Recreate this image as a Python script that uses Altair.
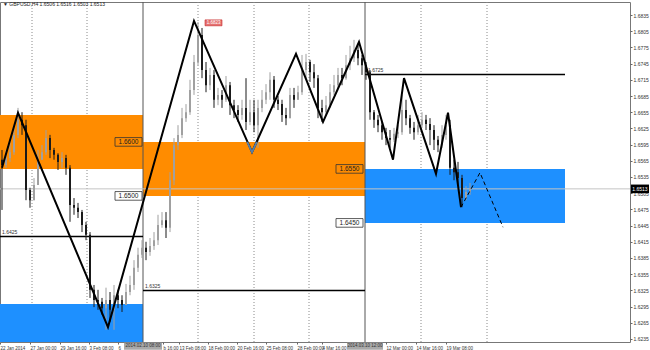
import altair as alt
import pandas as pd

# ---------------- data (bar index units / price units) ----------------
first_open = 1.6567
close = [1.6557, 1.6570, 1.6581, 1.6613, 1.6641, 1.6631, 1.6511, 1.6492, 1.6520, 1.6567,
         1.6581, 1.6607, 1.6585, 1.6576, 1.6563, 1.6570, 1.6552, 1.6483, 1.6478, 1.6470,
         1.6446, 1.6428, 1.6326, 1.6307, 1.6304, 1.6292, 1.6307, 1.6289, 1.6316, 1.6307,
         1.6298, 1.6322, 1.6335, 1.6367, 1.6391, 1.6404, 1.6396, 1.6407, 1.6418, 1.6446,
         1.6455, 1.6441, 1.6529, 1.6594, 1.6613, 1.6644, 1.6655, 1.6696, 1.6748, 1.6798,
         1.6733, 1.6705, 1.6724, 1.6678, 1.6687, 1.6678, 1.6705, 1.6668, 1.6659, 1.6650,
         1.6663, 1.6637, 1.6655, 1.6631, 1.6663, 1.6678, 1.6692, 1.6715, 1.6678, 1.6670,
         1.6650, 1.6644, 1.6687, 1.6678, 1.6692, 1.6733, 1.6748, 1.6729, 1.6718, 1.6663,
         1.6655, 1.6668, 1.6692, 1.6705, 1.6724, 1.6718, 1.6742, 1.6755, 1.6770, 1.6755,
         1.6742, 1.6729, 1.6655, 1.6641, 1.6631, 1.6618, 1.6607, 1.6604, 1.6615, 1.6618,
         1.6659, 1.6644, 1.6626, 1.6618, 1.6631, 1.6641, 1.6633, 1.6622, 1.6604, 1.6594,
         1.6613, 1.6631, 1.6552, 1.6544, 1.6533, 1.6496, 1.6507, 1.6513]
high = [1.6585, 1.6585, 1.6604, 1.6631, 1.6663, 1.6655, 1.6641, 1.6515, 1.6533, 1.6585,
        1.6594, 1.6622, 1.6613, 1.6589, 1.6579, 1.6581, 1.6576, 1.6557, 1.6496, 1.6487,
        1.6474, 1.6452, 1.6433, 1.6335, 1.6326, 1.6311, 1.6330, 1.6322, 1.6335, 1.6326,
        1.6316, 1.6337, 1.6352, 1.6381, 1.6404, 1.6418, 1.6415, 1.6422, 1.6433, 1.6465,
        1.6470, 1.6470, 1.6544, 1.6607, 1.6631, 1.6663, 1.6670, 1.6715, 1.6761, 1.6822,
        1.6811, 1.6748, 1.6737, 1.6733, 1.6700, 1.6696, 1.6722, 1.6711, 1.6678, 1.6668,
        1.6678, 1.6718, 1.6678, 1.6678, 1.6678, 1.6696, 1.6707, 1.6729, 1.6722, 1.6685,
        1.6678, 1.6663, 1.6700, 1.6700, 1.6704, 1.6761, 1.6763, 1.6752, 1.6744, 1.6724,
        1.6678, 1.6685, 1.6707, 1.6724, 1.6737, 1.6737, 1.6761, 1.6778, 1.6789, 1.6779,
        1.6761, 1.6748, 1.6733, 1.6659, 1.6650, 1.6637, 1.6626, 1.6622, 1.6626, 1.6631,
        1.6687, 1.6678, 1.6650, 1.6637, 1.6650, 1.6655, 1.6650, 1.6644, 1.6631, 1.6611,
        1.6631, 1.6650, 1.6641, 1.6567, 1.6563, 1.6539, 1.6518, 1.6524]
low = [1.6474, 1.6552, 1.6563, 1.6576, 1.6607, 1.6613, 1.6492, 1.6478, 1.6492, 1.6526,
       1.6567, 1.6576, 1.6570, 1.6567, 1.6548, 1.6552, 1.6539, 1.6452, 1.6465, 1.6459,
       1.6433, 1.6418, 1.6311, 1.6294, 1.6289, 1.6280, 1.6252, 1.6267, 1.6252, 1.6292,
       1.6285, 1.6298, 1.6316, 1.6326, 1.6359, 1.6385, 1.6381, 1.6389, 1.6400, 1.6409,
       1.6441, 1.6422, 1.6433, 1.6520, 1.6585, 1.6607, 1.6637, 1.6650, 1.6687, 1.6742,
       1.6718, 1.6692, 1.6696, 1.6663, 1.6668, 1.6663, 1.6674, 1.6650, 1.6644, 1.6637,
       1.6641, 1.6622, 1.6631, 1.6618, 1.6589, 1.6655, 1.6670, 1.6678, 1.6663, 1.6659,
       1.6637, 1.6631, 1.6644, 1.6663, 1.6678, 1.6687, 1.6718, 1.6711, 1.6700, 1.6644,
       1.6637, 1.6650, 1.6663, 1.6687, 1.6700, 1.6705, 1.6715, 1.6733, 1.6748, 1.6742,
       1.6724, 1.6715, 1.6641, 1.6626, 1.6618, 1.6604, 1.6594, 1.6589, 1.6600, 1.6607,
       1.6613, 1.6631, 1.6615, 1.6604, 1.6613, 1.6626, 1.6622, 1.6594, 1.6585, 1.6581,
       1.6589, 1.6604, 1.6539, 1.6529, 1.6520, 1.6479, 1.6492, 1.6502]

# zigzag pivots
zz_u = [0, 4, 26.5, 48, 62.5, 73.5, 80.25, 89.25, 97.75, 100.5, 108.5, 111.5, 114.75]
zz_p = [1.6552, 1.6654, 1.6257, 1.6824, 1.6581, 1.6763, 1.6637, 1.6785, 1.6567, 1.6718,
        1.6541, 1.6654, 1.6479]
vz_u = [61.3, 62.5, 63.7]
vz_p = [1.6600, 1.6581, 1.6600]
proj_u = [114.75, 119.5, 125.25]
proj_p = [1.6479, 1.6543, 1.6442]

# zones
box_x0 = [-0.5, 35.25, -0.5, 90.75]
box_x1 = [35.25, 90.75, 35.25, 140.75]
box_lo = [1.6550, 1.6500, 1.6200, 1.6450]
box_hi = [1.6650, 1.6600, 1.6300, 1.6550]
box_col = ["#FF8C00", "#FF8C00", "#1E90FF", "#1E90FF"]

# horizontal levels
lvl_x0 = [-0.5, 35.25, 90.75]
lvl_x1 = [35.25, 90.75, 140.75]
lvl_p = [1.6425, 1.6325, 1.6725]
lvl_txt = ["1.6425", "1.6325", "1.6725"]
lvl_tx = [0, 35.75, 91.5]

# price tags on zones
tag_x0 = [28.25, 28.25, 83.5, 83.5]
tag_x1 = [35.0, 35.0, 90.25, 90.25]
tag_p = [1.6600, 1.6500, 1.6550, 1.6450]
tag_txt = ["1.6600", "1.6500", "1.6550", "1.6450"]
tag_bg = ["transparent", "white", "transparent", "white"]

# separators / grid
sep_u = [35.25, 90.75]
dot_u = [7.5, 21.25, 49, 63, 76.75, 104.75, 121.25]
cur_price = 1.6513

# axes (labels partly hidden behind the separator date boxes show only their visible part)
xtick = [-0.5, 7, 14.5, 21.75, 29, 40.25, 44.25, 51.5, 58.75, 66, 73.75, 80, 96, 103.5, 111]
xlab = ["22 Jan 2014", "27 Jan 00:00", "29 Jan 16:00", "3 Feb 08:00", "6",
        "b 16:00", "13 Feb 08:00", "18 Feb 00:00", "20 Feb 16:00", "25 Feb 08:00",
        "28 Feb 00:00", "4 Mar 16:00", "12 Mar 00:00", "14 Mar 16:00", "19 Mar 08:00"]
ytick = [1.6235, 1.6265, 1.6295, 1.6325, 1.6355, 1.6385, 1.6415, 1.6445, 1.6475, 1.6505,
         1.6535, 1.6565, 1.6595, 1.6625, 1.6655, 1.6685, 1.6715, 1.6745, 1.6775, 1.6805,
         1.6835]

header = "\u25bc GBPUSD,H4  1.6506 1.6516 1.6503 1.6513"

# ---------------- build ----------------
N = len(close)
opens = [first_open] + close[:-1]
candles = pd.DataFrame({"bar": list(range(N)), "open": opens, "close": close,
                        "high": high, "low": low})
candles["col"] = ["#a0a0a0" if c >= o else "#1a1a1a" for o, c in zip(opens, close)]

FONT = "Liberation Sans"
xs = alt.Scale(domain=[-0.5, 157], nice=False, zero=False)
ys = alt.Scale(domain=[1.62294, 1.68591], nice=False, zero=False)

lab_js = "[" + ",".join(f"'{s}'" for s in xlab) + "]"
val_js = "[" + ",".join(str(v) for v in xtick) + "]"
X_AX = alt.Axis(values=xtick, labelExpr=f"{lab_js}[indexof({val_js}, datum.value)]",
                labelFontSize=4.5, labelFont=FONT, labelColor="#333", labelAlign="left",
                labelPadding=1, tickSize=2, tickColor="#666", domain=False, grid=False,
                labelOverlap=False, labelFlush=False, labelBound=False, title=None)
Y_AX = alt.Axis(orient="right", values=ytick, format=".4f", labelFontSize=5, labelFont=FONT,
                labelColor="#333", labelPadding=1, tickSize=2, tickColor="#666",
                domain=False, grid=False, labelOverlap=False, title=None)


def X(f):
    return alt.X(f, scale=xs, axis=X_AX)


def Y(f):
    return alt.Y(f, scale=ys, axis=Y_AX)


boxes = pd.DataFrame({"x0": box_x0, "x1": box_x1, "lo": box_lo, "hi": box_hi, "col": box_col})
lvls = pd.DataFrame({"x0": lvl_x0, "x1": lvl_x1, "p": lvl_p, "t": lvl_txt, "tx": lvl_tx})
tags = pd.DataFrame({"x0": tag_x0, "x1": tag_x1, "p": tag_p, "t": tag_txt, "bg": tag_bg})
tags["lo"] = tags["p"] - 0.0008
tags["hi"] = tags["p"] + 0.0008
tags["xm"] = (tags["x0"] + tags["x1"]) / 2

dots = alt.Chart(pd.DataFrame({"u": dot_u})).mark_rule(
    color="#8a8a8a", strokeDash=[1, 2], strokeWidth=1).encode(x=X("u:Q"))

zones = alt.Chart(boxes).mark_rect(clip=True).encode(
    x=X("x0:Q"), x2="x1:Q", y=Y("lo:Q"), y2="hi:Q",
    fill=alt.Fill("col:N", scale=None))

seps = alt.Chart(pd.DataFrame({"u": sep_u})).mark_rule(
    color="#555", strokeWidth=1).encode(x=X("u:Q"))

pline = alt.Chart(pd.DataFrame({"p": [cur_price]})).mark_rule(
    color="#c4c4c4", strokeWidth=1).encode(y=Y("p:Q"))

levels = alt.Chart(lvls).mark_rule(color="black", strokeWidth=1.5).encode(
    x=X("x0:Q"), x2="x1:Q", y=Y("p:Q"))
level_txt = alt.Chart(lvls).mark_text(
    align="left", baseline="bottom", dy=-1, fontSize=5, font=FONT, color="#333").encode(
    x=X("tx:Q"), y=Y("p:Q"), text="t:N")

ccol = alt.Stroke("col:N", scale=None)
wicks = alt.Chart(candles).mark_rule(strokeWidth=1).encode(
    x=X("bar:Q"), y=Y("low:Q"), y2="high:Q", stroke=ccol)
bodies = alt.Chart(candles).mark_rule(strokeWidth=2).encode(
    x=X("bar:Q"), y=Y("open:Q"), y2="close:Q", stroke=ccol)

zz = alt.Chart(pd.DataFrame({"u": zz_u, "p": zz_p, "k": list(range(len(zz_u)))})).mark_line(
    color="black", strokeWidth=2).encode(x=X("u:Q"), y=Y("p:Q"), order="k:Q")
vz = alt.Chart(pd.DataFrame({"u": vz_u, "p": vz_p, "k": [0, 1, 2]})).mark_line(
    color="#5b7fa6", strokeWidth=2).encode(x=X("u:Q"), y=Y("p:Q"), order="k:Q")
proj = alt.Chart(pd.DataFrame({"u": proj_u, "p": proj_p, "k": [0, 1, 2]})).mark_line(
    color="black", strokeWidth=1, strokeDash=[4, 3]).encode(x=X("u:Q"), y=Y("p:Q"), order="k:Q")

tag_box = alt.Chart(tags).mark_rect(stroke="#333", strokeWidth=0.8).encode(
    x=X("x0:Q"), x2="x1:Q", y=Y("lo:Q"), y2="hi:Q",
    fill=alt.Fill("bg:N", scale=None))
tag_text = alt.Chart(tags).mark_text(fontSize=6.5, font=FONT, color="#222").encode(
    x=X("xm:Q"), y=Y("p:Q"), text="t:N")

red = pd.DataFrame({"x0": [50.75], "x1": [55.0], "lo": [1.6815], "hi": [1.6826],
                    "xm": [52.875], "pm": [1.68205], "t": ["1.6823"]})
red_box = alt.Chart(red).mark_rect(fill="#e57373", stroke="#c62828", strokeWidth=0.6).encode(
    x=X("x0:Q"), x2="x1:Q", y=Y("lo:Q"), y2="hi:Q")
red_txt = alt.Chart(red).mark_text(fontSize=4.5, font=FONT, color="white").encode(
    x=X("xm:Q"), y=Y("pm:Q"), text="t:N")

gb = pd.DataFrame({"x0": [30.5, 86.25], "x1": [40.0, 95.25], "lo": [1.6215, 1.6215],
                   "hi": [1.6228, 1.6228], "xm": [35.25, 90.75], "pm": [1.62215, 1.62215],
                   "t": ["2014.02.10 08:00", "2014.03.10 12:00"]})
gb_box = alt.Chart(gb).mark_rect(fill="#a9a9a9").encode(
    x=X("x0:Q"), x2="x1:Q", y=Y("lo:Q"), y2="hi:Q")
gb_txt = alt.Chart(gb).mark_text(fontSize=4.5, font=FONT, color="#333").encode(
    x=X("xm:Q"), y=Y("pm:Q"), text="t:N")

cp = pd.DataFrame({"x0": [157.25], "x1": [161.75], "lo": [1.6505], "hi": [1.6521],
                   "xm": [159.5], "pm": [cur_price], "t": ["1.6513"]})
cp_box = alt.Chart(cp).mark_rect(fill="black").encode(
    x=X("x0:Q"), x2="x1:Q", y=Y("lo:Q"), y2="hi:Q")
cp_txt = alt.Chart(cp).mark_text(fontSize=5, font=FONT, color="white").encode(
    x=X("xm:Q"), y=Y("pm:Q"), text="t:N")

hdr = alt.Chart(pd.DataFrame({"u": [0.25], "p": [1.6855], "t": [header]})).mark_text(
    align="left", baseline="middle", fontSize=5, font=FONT, color="#222").encode(
    x=X("u:Q"), y=Y("p:Q"), text="t:N")

chart = alt.layer(
    dots, zones, seps, pline, levels, level_txt, wicks, bodies, zz, vz, proj,
    tag_box, tag_text, red_box, red_txt, gb_box, gb_txt, cp_box, cp_txt, hdr
).properties(
    width=630, height=340, autosize="none",
    padding={"left": 0, "top": 2, "right": 20, "bottom": 8},
    background="white"
).configure_view(stroke="#777", strokeWidth=1)

chart.save("out.html", embed_options={"renderer": "svg", "actions": False})
